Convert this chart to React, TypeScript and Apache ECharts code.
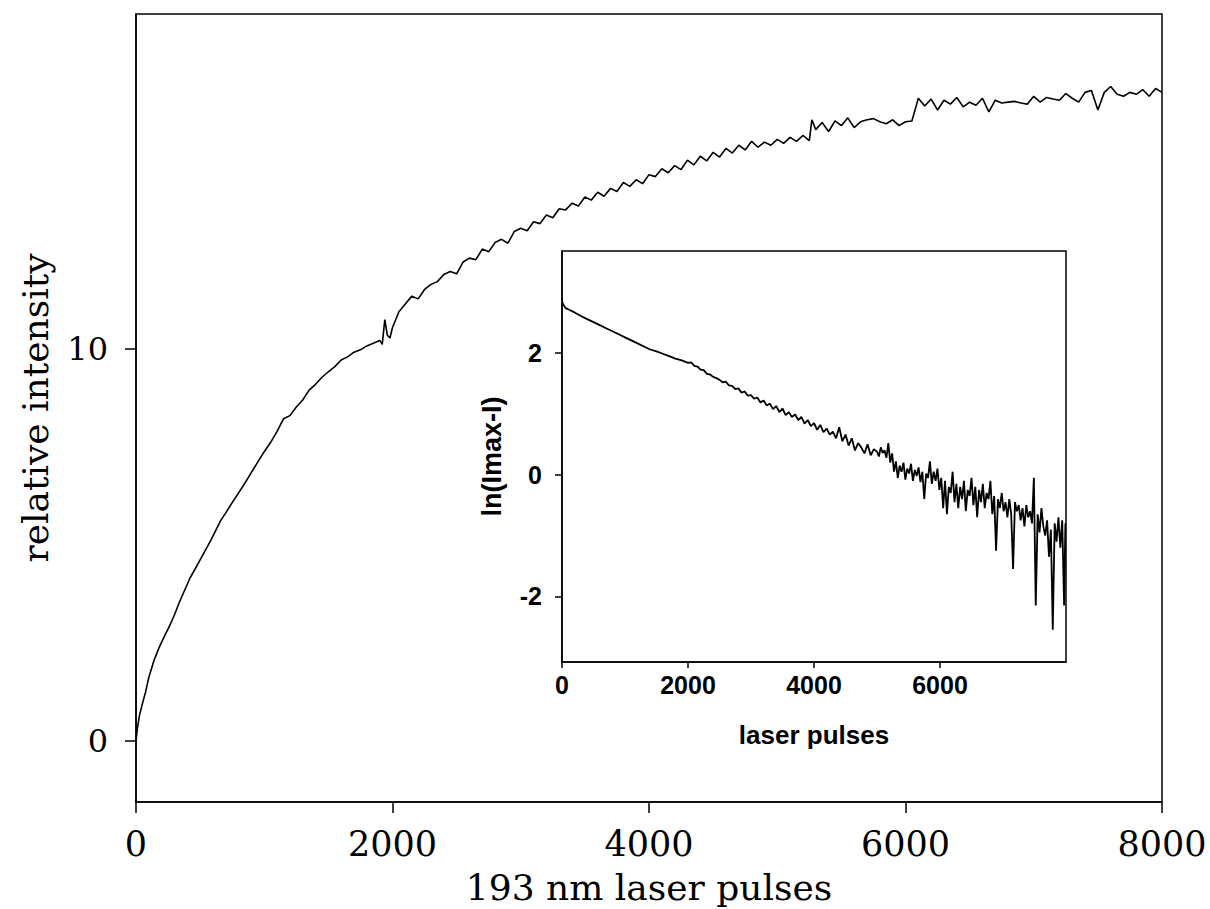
import React, { useEffect, useRef } from "react";
import * as echarts from "echarts";

// ---- main curve: relative intensity vs 193 nm laser pulses ----
const mainPulses = [
  0, 10, 25, 50, 75, 100, 140, 180, 220, 260, 300, 340, 380, 420, 460, 500, 540, 580, 620, 660,
  700, 750, 800, 850, 900, 950, 1000, 1050, 1100, 1150, 1200, 1250, 1300, 1350, 1400, 1450, 1500, 1550, 1600, 1650,
  1700, 1750, 1800, 1850, 1900, 1920, 1940, 1960, 1980, 2000,
  2050, 2100, 2150, 2200, 2250, 2300, 2350, 2400, 2450, 2500, 2550, 2600, 2650, 2700, 2750, 2800, 2850, 2900, 2950, 3000,
  3050, 3100, 3150, 3200, 3250, 3300, 3350, 3400, 3450, 3500, 3550, 3600, 3650, 3700, 3750, 3800, 3850, 3900, 3950, 4000,
  4050, 4100, 4150, 4200, 4250, 4300, 4350, 4400, 4450, 4500, 4550, 4600, 4650, 4700, 4750, 4800, 4850, 4900, 4950, 5000,
  5050, 5100, 5150, 5200, 5250, 5270, 5300, 5350, 5400, 5450, 5500, 5550, 5600, 5650, 5700, 5750, 5800, 5850, 5900, 5950,
  6000, 6050, 6100, 6150, 6200, 6250, 6300, 6350, 6400, 6450, 6500, 6550, 6600, 6650, 6700, 6750, 6800, 6850, 6900, 6950,
  7000, 7050, 7100, 7150, 7200, 7250, 7300, 7350, 7400, 7450, 7500, 7550, 7600, 7650, 7700, 7750, 7800, 7850, 7900, 7950,
  8000,
];
const mainIntensity = [
  0.0, 0.3, 0.62, 0.95, 1.25, 1.62, 2.05, 2.38, 2.66, 2.92, 3.22, 3.55, 3.85, 4.15, 4.38, 4.62, 4.86, 5.1, 5.36, 5.62,
  5.82, 6.08, 6.33, 6.58, 6.85, 7.12, 7.38, 7.62, 7.9, 8.22, 8.3, 8.52, 8.7, 8.95, 9.1, 9.28, 9.42, 9.55, 9.72, 9.8,
  9.92, 9.98, 10.08, 10.15, 10.22, 10.12, 10.75, 10.35, 10.28, 10.55,
  10.95, 11.15, 11.35, 11.28, 11.52, 11.65, 11.72, 11.9, 11.98, 11.92, 12.22, 12.32, 12.28, 12.55, 12.48, 12.72, 12.8, 12.7, 13.0, 13.08,
  13.02, 13.25, 13.2, 13.42, 13.35, 13.58, 13.55, 13.72, 13.65, 13.88, 13.8, 14.0, 13.9, 14.1, 14.02, 14.25, 14.15, 14.32, 14.22, 14.45,
  14.4, 14.6, 14.5, 14.68, 14.58, 14.82, 14.7, 14.92, 14.8, 15.02, 14.9, 15.12, 15.0, 15.2, 15.08, 15.3, 15.15, 15.28, 15.2, 15.35,
  15.25, 15.4, 15.3, 15.45, 15.32, 15.85, 15.6, 15.78, 15.55, 15.82, 15.7, 15.9, 15.65, 15.8, 15.85, 15.88, 15.8, 15.75, 15.85, 15.7,
  15.8, 15.82, 16.4, 16.2, 16.38, 16.1, 16.35, 16.25, 16.42, 16.18, 16.3, 16.22, 16.4, 16.05, 16.35, 16.28, 16.3, 16.32, 16.28, 16.25,
  16.45, 16.3, 16.42, 16.38, 16.35, 16.52, 16.4, 16.3, 16.55, 16.6, 16.1, 16.55, 16.7, 16.5, 16.45, 16.55, 16.5, 16.62, 16.45, 16.65,
  16.55,
];

// ---- inset: ln(Imax - I) vs laser pulses ----
const insetPulses = [
  0, 20, 60, 120, 200, 300, 400, 500, 600, 700, 800, 900, 1000, 1100, 1200, 1300, 1400, 1500, 1600, 1700, 1800, 1900, 2000,
  2050, 2100, 2150, 2200, 2250, 2300, 2350, 2400, 2450, 2500, 2550, 2600, 2650, 2700, 2750, 2800, 2850, 2900, 2950, 3000,
  3050, 3100, 3150, 3200, 3250, 3300, 3350, 3400, 3450, 3500, 3550, 3600, 3650, 3700, 3750, 3800, 3850, 3900, 3950, 4000,
  4050, 4100, 4150, 4200, 4250, 4300, 4350, 4400, 4450, 4500, 4550, 4600, 4650, 4700, 4750, 4800, 4850, 4900, 4950, 5000,
  5030, 5060, 5090, 5120, 5150, 5180, 5210, 5240, 5270, 5300,
  5330, 5360, 5390, 5420, 5450, 5480, 5510, 5540, 5570, 5600,
  5630, 5660, 5690, 5720, 5750, 5780, 5810, 5840, 5870, 5900,
  5930, 5960, 5990, 6020, 6050, 6080, 6110, 6140, 6170, 6200,
  6230, 6260, 6290, 6320, 6350, 6380, 6410, 6440, 6470, 6500,
  6530, 6560, 6590, 6620, 6650, 6680, 6710, 6740, 6770, 6800,
  6830, 6860, 6890, 6920, 6950, 6980, 7010, 7040, 7070, 7100,
  7130, 7160, 7190, 7220, 7250, 7280, 7310, 7340, 7370, 7400,
  7430, 7460, 7490, 7520, 7550, 7580, 7610, 7640, 7670, 7700,
  7730, 7760, 7790, 7820, 7850, 7880, 7910, 7940, 7970, 7990,
];
const insetLn = [
  2.85, 2.8, 2.74, 2.71, 2.67, 2.61, 2.56, 2.51, 2.46, 2.41, 2.36, 2.31, 2.26, 2.21, 2.16, 2.11, 2.06, 2.03, 1.99, 1.95, 1.91, 1.88, 1.84,
  1.85, 1.79, 1.78, 1.73, 1.72, 1.66, 1.65, 1.61, 1.59, 1.56, 1.52, 1.53, 1.47, 1.46, 1.41, 1.42, 1.35, 1.37, 1.3, 1.31,
  1.25, 1.27, 1.19, 1.22, 1.14, 1.17, 1.08, 1.13, 1.03, 1.09, 0.98, 1.03, 0.95, 0.99, 0.9, 0.95, 0.84, 0.9, 0.8, 0.85,
  0.74, 0.82, 0.7, 0.76, 0.66, 0.71, 0.6, 0.78, 0.55, 0.66, 0.48, 0.6, 0.4, 0.52, 0.45, 0.35, 0.5, 0.32, 0.42, 0.38,
  0.3, 0.45, 0.36, 0.4, 0.28, 0.52, 0.2, 0.35, 0.05, 0.22,
  -0.05, 0.15, 0.05, 0.2, -0.08, 0.1, 0.02, 0.18, -0.1, 0.08,
  -0.02, 0.12, -0.12, 0.05, -0.4, 0.02, -0.05, 0.22, -0.15, 0.05,
  -0.1, 0.1, -0.25, -0.05, -0.55, -0.1, -0.65, -0.2, -0.3, 0.05,
  -0.45, -0.15, -0.55, -0.2, -0.4, -0.1, -0.6, -0.25, -0.35, -0.05,
  -0.5, -0.2, -0.7, -0.25, -0.45, -0.15, -0.55, -0.3, -0.4, -0.1,
  -0.65, -0.35, -1.25, -0.4, -0.55, -0.3, -0.6, -0.45, -0.7, -0.4,
  -0.65, -1.55, -0.45, -0.6, -0.5, -0.75, -0.55, -0.85, -0.5, -0.7,
  -0.6, -0.8, -0.05, -2.15, -0.65, -0.95, -0.55, -0.85, -1.0, -0.75,
  -1.35, -0.9, -2.55, -0.8, -1.1, -0.7, -1.2, -0.75, -2.15, -0.8,
];

const mainXTicks = [0, 2000, 4000, 6000, 8000];
const mainYTicks = [0, 10];
const insetXTicks = [0, 2000, 4000, 6000];
const insetYTicks = [-2, 0, 2];

const SERIF = "DejaVu Serif";
const SANS = "Liberation Sans";
const plain = (v: number) => String(v);

export default function App() {
  const ref = useRef<HTMLDivElement>(null);

  useEffect(() => {
    if (!ref.current) return;
    const chart = echarts.init(ref.current, null, { renderer: "svg" });

    const mainData = mainPulses.map((x, i) => [x, mainIntensity[i]]);
    const insetData = insetPulses.map((x, i) => [x, insetLn[i]]);

    const axisLine = { show: true, onZero: false, lineStyle: { color: "#000", width: 1.5 } };

    const option: any = {
      animation: false,
      backgroundColor: "#ffffff",
      grid: [
        {
          left: 136, right: 48, top: 14, bottom: 107,
          show: true, borderColor: "#000", borderWidth: 1.5, backgroundColor: "transparent",
          containLabel: false, outerBoundsMode: "none",
        },
        {
          left: 562, right: 144, top: 251, bottom: 247,
          show: true, borderColor: "#000", borderWidth: 1.5, backgroundColor: "#ffffff",
          containLabel: false, outerBoundsMode: "none",
        },
      ],
      xAxis: [
        {
          gridIndex: 0, type: "value", min: 0, max: 8000,
          axisLine,
          axisTick: { show: true, inside: false, length: 11, customValues: mainXTicks, lineStyle: { color: "#000", width: 1.5 } },
          axisLabel: { color: "#000", fontFamily: SERIF, fontSize: 35, margin: 24, customValues: mainXTicks, formatter: plain, showMinLabel: true, showMaxLabel: true },
          splitLine: { show: false },
          name: "193 nm laser pulses", nameLocation: "middle", nameGap: 67,
          nameTextStyle: { color: "#000", fontFamily: SERIF, fontSize: 36 },
        },
        {
          gridIndex: 1, type: "value", min: 0, max: 8000,
          axisLine,
          axisTick: { show: true, inside: false, length: 6, customValues: insetXTicks, lineStyle: { color: "#000", width: 1.5 } },
          axisLabel: { color: "#000", fontFamily: SANS, fontWeight: "bold", fontSize: 25, margin: 10, customValues: insetXTicks, formatter: plain },
          splitLine: { show: false },
          name: "laser pulses", nameLocation: "middle", nameGap: 60,
          nameTextStyle: { color: "#000", fontFamily: SANS, fontWeight: "bold", fontSize: 26 },
        },
      ],
      yAxis: [
        {
          gridIndex: 0, type: "value", min: -1.56, max: 18.55,
          axisLine,
          axisTick: { show: true, inside: false, length: 11, customValues: mainYTicks, lineStyle: { color: "#000", width: 1.5 } },
          axisLabel: { color: "#000", fontFamily: SERIF, fontSize: 32, margin: 28, customValues: mainYTicks, formatter: plain },
          splitLine: { show: false },
          name: "relative intensity", nameLocation: "middle", nameGap: 83,
          nameTextStyle: { color: "#000", fontFamily: SERIF, fontSize: 36 },
        },
        {
          gridIndex: 1, type: "value", min: -3.08, max: 3.68,
          axisLine,
          axisTick: { show: true, inside: false, length: 7, customValues: insetYTicks, lineStyle: { color: "#000", width: 1.5 } },
          axisLabel: { color: "#000", fontFamily: SANS, fontWeight: "bold", fontSize: 25, margin: 20, customValues: insetYTicks, formatter: plain },
          splitLine: { show: false },
          name: "ln(Imax-I)", nameLocation: "middle", nameGap: 57,
          nameTextStyle: { color: "#000", fontFamily: SANS, fontWeight: "bold", fontSize: 27 },
        },
      ],
      series: [
        {
          type: "line", xAxisIndex: 0, yAxisIndex: 0, data: mainData,
          showSymbol: false, symbol: "none", smooth: false,
          lineStyle: { color: "#000", width: 1.6 }, z: 2,
        },
        {
          type: "line", xAxisIndex: 1, yAxisIndex: 1, data: insetData,
          showSymbol: false, symbol: "none", smooth: false,
          lineStyle: { color: "#000", width: 1.8 }, z: 3,
        },
      ],
    };

    chart.setOption(option);
    return () => chart.dispose();
  }, []);

  return (
    <div
      ref={ref}
      style={{ position: "fixed", left: 0, top: 0, width: 1210, height: 909, background: "#ffffff" }}
    />
  );
}
